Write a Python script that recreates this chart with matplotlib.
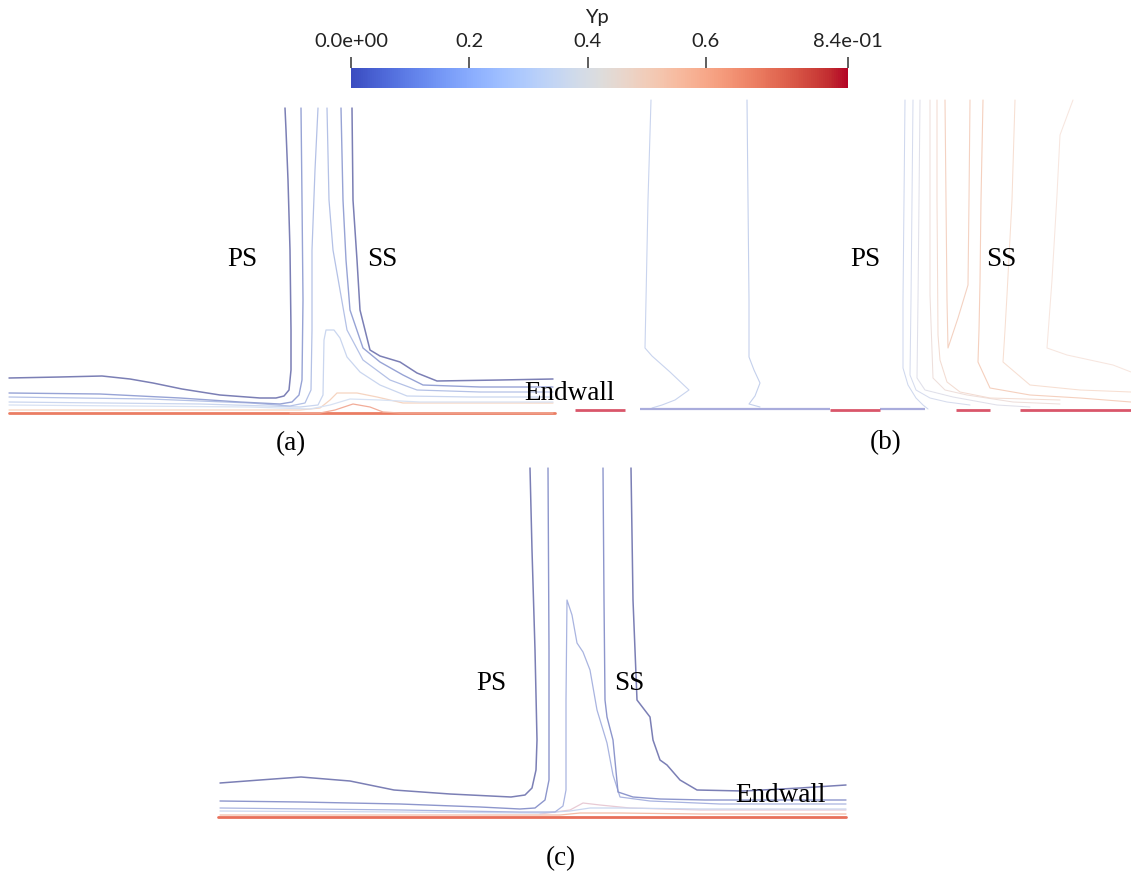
import matplotlib.pyplot as plt
from matplotlib import cm, colors

# -----------------------------------
# Colour bar
# -----------------------------------
yp_min, yp_max = 0.0, 0.84
cbar_ticks = [0.0, 0.2, 0.4, 0.6, 0.84]
cbar_labels = ["0.0e+00", "0.2", "0.4", "0.6", "8.4e-01"]

# -----------------------------------
# Iso-lines (image pixel coords)
# -----------------------------------
# panel (a)
a_ps1_x = [9, 60, 102, 130, 153, 182, 220, 260, 276, 284, 289, 291, 291, 290, 288, 286, 285]
a_ps1_y = [378, 377, 376, 379, 383, 389, 395, 398, 398, 396, 390, 370, 330, 250, 180, 130, 108]
a_ps2_x = [9, 100, 180, 240, 280, 292, 299, 302, 303, 302, 301]
a_ps2_y = [393, 394, 398, 402, 404, 402, 395, 380, 300, 200, 108]
a_mid_x = [9, 150, 250, 290, 305, 311, 312, 312, 315, 318]
a_mid_y = [397, 399, 403, 406, 403, 390, 330, 250, 170, 108]
a_pla_x = [9, 200, 300, 318, 323, 324, 326, 334, 340, 347, 360, 380, 407, 470, 553]
a_pla_y = [402, 404, 407, 405, 395, 340, 330, 330, 338, 357, 372, 385, 396, 397, 397]
a_low_x = [9, 250, 310, 330, 350, 380, 420, 553]
a_low_y = [405, 407, 409, 405, 399, 400, 402, 402]
a_ss3_x = [327, 329, 333, 340, 347, 363, 390, 417, 480, 553]
a_ss3_y = [108, 200, 250, 290, 330, 360, 380, 390, 392, 392]
a_ss2_x = [341, 343, 346, 350, 363, 380, 403, 423, 480, 553]
a_ss2_y = [108, 200, 260, 310, 348, 362, 375, 385, 387, 387]
a_ss1_x = [352, 353, 357, 360, 370, 380, 400, 417, 437, 500, 553]
a_ss1_y = [108, 200, 260, 310, 350, 356, 362, 373, 381, 380, 379]
a_org_x = [9, 200, 300, 320, 330, 337, 357, 377, 403, 480, 553]
a_org_y = [410, 410, 410, 408, 400, 393, 393, 397, 403, 403, 403]
a_bump_x = [290, 320, 335, 353, 370, 383, 400, 553]
a_bump_y = [413, 413, 410, 404, 407, 412, 413, 413]
a_wall_x = [9, 555]
a_wall_y = [413, 413]

# panel (b)
b_l1_x = [651, 648, 646, 645, 652, 670, 689, 675, 662, 652]
b_l1_y = [100, 200, 300, 348, 356, 372, 390, 400, 405, 408]
b_l2_x = [747, 748, 749, 749, 754, 760, 755, 749, 760]
b_l2_y = [100, 200, 300, 357, 370, 383, 396, 404, 407]
b_c1_x = [905, 904, 903, 903, 908, 916, 923, 928]
b_c1_y = [100, 200, 300, 368, 385, 398, 405, 409]
b_c2_x = [913, 912, 911, 910, 916, 930, 947, 970]
b_c2_y = [100, 200, 300, 375, 390, 398, 402, 405]
b_c3_x = [920, 919, 918, 917, 925, 953, 997, 1030]
b_c3_y = [100, 200, 300, 378, 390, 397, 405, 407]
b_c4_x = [930, 930, 930, 933, 945, 967, 1013, 1060]
b_c4_y = [100, 200, 295, 378, 390, 395, 402, 404]
b_c5_x = [937, 937, 938, 940, 947, 960, 990, 1060]
b_c5_y = [100, 200, 335, 360, 382, 392, 398, 400]
b_v_x = [945, 946, 947, 948, 958, 968, 969, 970]
b_v_y = [100, 200, 300, 348, 318, 285, 200, 100]
b_c7_x = [983, 981, 980, 979, 978, 990, 1030, 1080, 1131]
b_c7_y = [100, 200, 282, 330, 362, 388, 395, 398, 402]
b_c8_x = [1015, 1012, 1007, 1005, 1003, 1030, 1080, 1131]
b_c8_y = [100, 200, 295, 330, 362, 385, 390, 392]
b_c9_x = [1073, 1060, 1057, 1052, 1047, 1067, 1113, 1131]
b_c9_y = [100, 135, 195, 280, 348, 355, 365, 372]
b_wall_blue_x = [[640, 830], [880, 925]]
b_wall_red_x = [[575, 625], [830, 880], [956, 990], [1020, 1131]]
b_wall_y = 409

# panel (c)
c_ps1_x = [220, 260, 301, 350, 394, 450, 511, 525, 532, 536, 537, 535, 532, 530]
c_ps1_y = [783, 780, 777, 781, 790, 794, 797, 795, 788, 770, 740, 650, 550, 468]
c_ps2_x = [220, 300, 400, 480, 520, 535, 545, 549, 549, 548]
c_ps2_y = [801, 802, 804, 807, 809, 808, 800, 780, 650, 468]
c_peak_x = [220, 400, 520, 555, 563, 566, 566, 567, 572, 577, 583, 590, 597, 607, 613, 620, 650, 720, 846]
c_peak_y = [808, 810, 812, 812, 806, 790, 700, 600, 615, 643, 652, 670, 710, 743, 775, 797, 801, 804, 804]
c_ss1_x = [603, 604, 605, 607, 613, 618, 633, 660, 705, 846]
c_ss1_y = [468, 600, 700, 717, 740, 792, 797, 799, 800, 800]
c_ss2_x = [631, 633, 637, 650, 653, 660, 667, 680, 697, 743, 800, 846]
c_ss2_y = [468, 600, 700, 717, 740, 760, 765, 780, 790, 791, 788, 785]
c_low_x = [220, 400, 540, 570, 590, 620, 700, 846]
c_low_y = [811, 812, 813, 811, 808, 808, 809, 809]
c_bump_x = [540, 570, 583, 600, 630, 700, 846]
c_bump_y = [814, 810, 803, 805, 808, 810, 810]
c_org_x = [220, 560, 580, 620, 700, 846]
c_org_y = [815, 815, 813, 813, 814, 814]
c_wall_x = [218, 846]
c_wall_y = [817, 817]

# -----------------------------------
# Figure
# -----------------------------------
fig = plt.figure(figsize=(11.31, 8.75), dpi=100)
ax = fig.add_axes([0, 0, 1, 1])
ax.set_xlim(0, 1131)
ax.set_ylim(875, 0)
ax.axis("off")

dark = "#7b7fb5"
mid = "#97a3d5"
light = "#b4c1e6"
pale = "#cad6ef"
paler = "#d8e2f3"

lines = [
    # (a)
    (a_wall_x, a_wall_y, "#ea7d63", 2.0),
    (a_bump_x, a_bump_y, "#f2ac98", 0.9),
    (a_org_x, a_org_y, "#f6d4c0", 0.9),
    (a_low_x, a_low_y, paler, 0.9),
    (a_pla_x, a_pla_y, pale, 0.9),
    (a_mid_x, a_mid_y, light, 0.9),
    (a_ss3_x, a_ss3_y, light, 0.9),
    (a_ps2_x, a_ps2_y, mid, 1.0),
    (a_ss2_x, a_ss2_y, mid, 1.0),
    (a_ps1_x, a_ps1_y, dark, 1.1),
    (a_ss1_x, a_ss1_y, dark, 1.1),
    # (b)
    (b_l1_x, b_l1_y, "#c9d4ee", 0.8),
    (b_l2_x, b_l2_y, "#c4d0ec", 0.8),
    (b_c1_x, b_c1_y, "#cfd8ee", 0.75),
    (b_c2_x, b_c2_y, "#d6dcee", 0.75),
    (b_c3_x, b_c3_y, "#e0e0ea", 0.75),
    (b_c4_x, b_c4_y, "#eedfdb", 0.75),
    (b_c5_x, b_c5_y, "#f3dcd2", 0.75),
    (b_v_x, b_v_y, "#f4d2c2", 0.8),
    (b_c7_x, b_c7_y, "#f5d0be", 0.8),
    (b_c8_x, b_c8_y, "#f7dfd2", 0.75),
    (b_c9_x, b_c9_y, "#f7e6df", 0.75),
    # (c)
    (c_wall_x, c_wall_y, "#e8705a", 2.0),
    (c_org_x, c_org_y, "#f3bca6", 0.9),
    (c_bump_x, c_bump_y, "#e8cad4", 0.9),
    (c_low_x, c_low_y, pale, 0.9),
    (c_peak_x, c_peak_y, "#a9b4e0", 0.9),
    (c_ps2_x, c_ps2_y, "#8d96cc", 1.0),
    (c_ss1_x, c_ss1_y, "#8d96cc", 1.0),
    (c_ps1_x, c_ps1_y, dark, 1.1),
    (c_ss2_x, c_ss2_y, dark, 1.1),
]
for x, y, c, lw in lines:
    ax.plot(x, y, color=c, lw=lw, solid_joinstyle="round", solid_capstyle="round")

for seg in b_wall_blue_x:
    ax.plot(seg, [b_wall_y, b_wall_y], color="#a9acdc", lw=1.6, solid_capstyle="butt")
for seg in b_wall_red_x:
    ax.plot(seg, [b_wall_y + 1, b_wall_y + 1], color="#d9566a", lw=2.0, solid_capstyle="butt")

# labels
serif = dict(family="Liberation Serif", fontsize=19.5, ha="center", va="center", color="black")
ax.text(242, 259, "PS", **serif)
ax.text(382, 259, "SS", **serif)
ax.text(865, 259, "PS", **serif)
ax.text(1001, 259, "SS", **serif)
ax.text(569, 394, "Endwall", **serif)
ax.text(291, 444, "(a)", **serif)
ax.text(886, 443, "(b)", **serif)
ax.text(491, 684, "PS", **serif)
ax.text(629, 684, "SS", **serif)
ax.text(780, 796, "Endwall", **serif)
ax.text(561, 859, "(c)", **serif)

# -----------------------------------
# Colour bar
# -----------------------------------
cax = fig.add_axes([351 / 1131, 1 - 88 / 875, 497 / 1131, 20 / 875])
sm = cm.ScalarMappable(norm=colors.Normalize(yp_min, yp_max), cmap="coolwarm")
cb = fig.colorbar(sm, cax=cax, orientation="horizontal", ticks=cbar_ticks)
cb.set_ticklabels(cbar_labels)
cb.outline.set_visible(False)
cax.xaxis.set_ticks_position("top")
cax.xaxis.set_label_position("top")
cax.tick_params(axis="x", direction="out", length=8, width=1.1, color="#333333",
                pad=5, labelsize=14.5, labelcolor="#222222")
for lab in cax.get_xticklabels():
    lab.set_family("Lato")
fig.text(597 / 1131, 1 - 17 / 875, "Yp", ha="center", va="center",
         fontsize=14.5, family="Lato", color="#222222")

fig.savefig("out.png", dpi=100)
